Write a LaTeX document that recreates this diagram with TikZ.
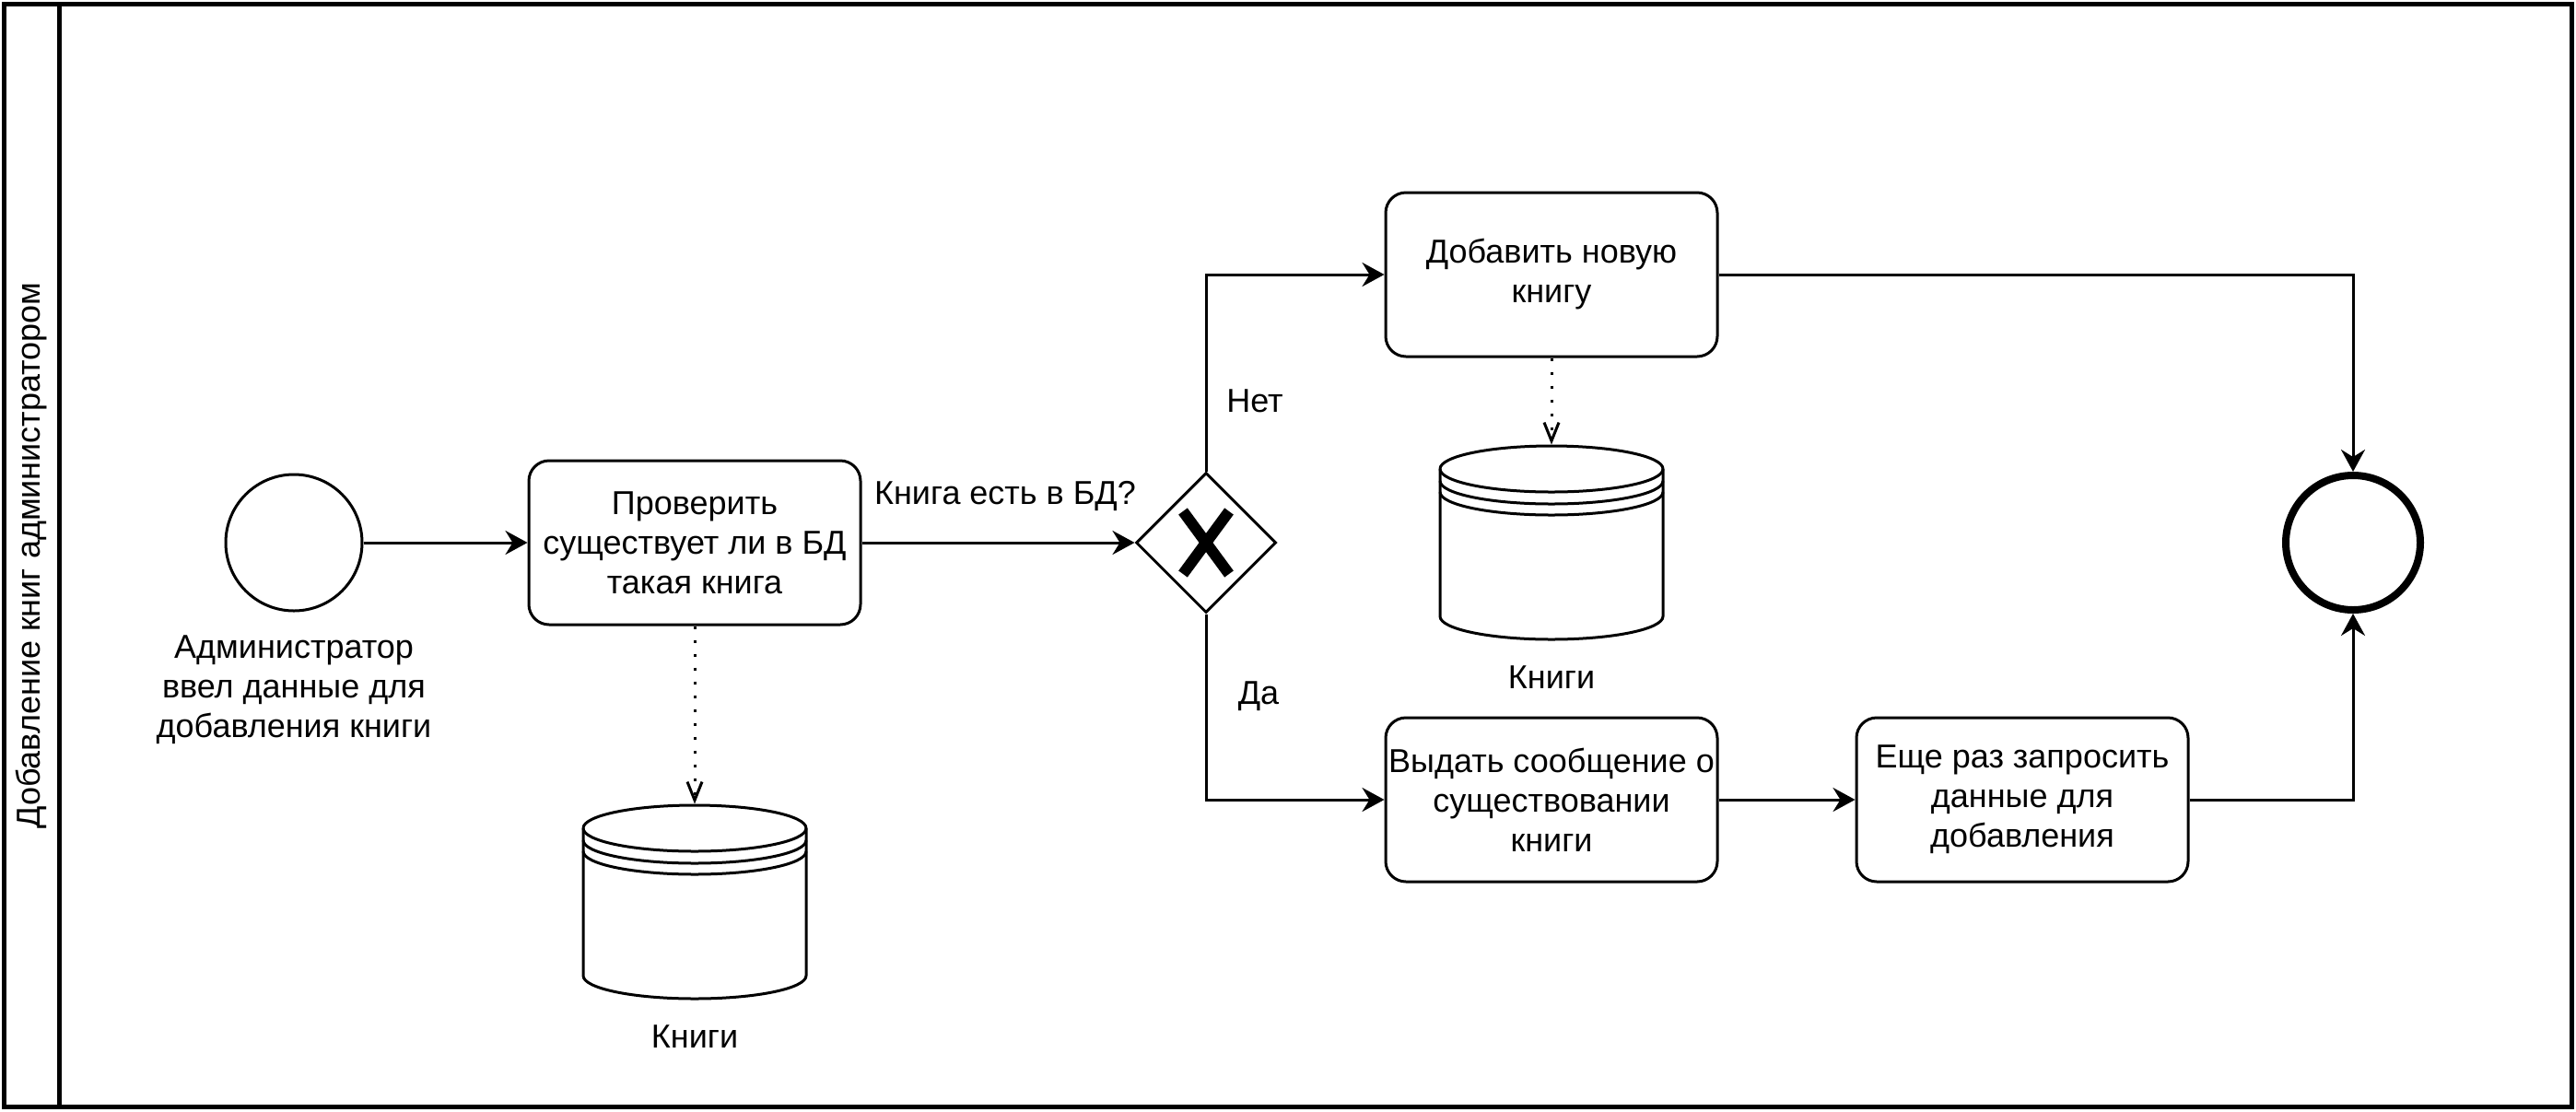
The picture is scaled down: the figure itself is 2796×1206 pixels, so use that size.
\documentclass[tikz,border=0pt]{standalone}
\usepackage{fontspec}
\setmainfont{Liberation Sans}
\usetikzlibrary{shapes.geometric,arrows.meta,positioning}

\newcommand{\knigistore}[3]{% #1 name, #2 centre x, #3 top y
  \node[dbbox] (#1) at (#2,#3+106) {};
  \draw[dbline] (#2-121,#3+26) -- (#2-121,#3+186)
    arc[start angle=180,end angle=360,x radius=60.5pt,y radius=12.5pt]
    -- (#2+121,#3+26)
    arc[start angle=0,end angle=180,x radius=60.5pt,y radius=12.5pt];
  \foreach \d in {0,13,25}
    \draw[dbline] (#2-121,#3+26+\d) arc[start angle=180,end angle=360,x radius=60.5pt,y radius=12.5pt];
}

\begin{document}
\begin{tikzpicture}[x=0.5pt,y=-0.5pt,font=\fontsize{18}{21.5}\selectfont,
  activity/.style={rectangle,draw,line width=1.5pt,rounded corners=11pt,minimum width=180pt,minimum height=89pt,inner sep=0pt,align=center},
  startev/.style={circle,draw,line width=1.5pt,minimum size=74pt,inner sep=0pt},
  endev/.style={circle,draw,line width=4pt,minimum size=73pt,inner sep=0pt},
  xgate/.style={diamond,draw,line width=1.5pt,minimum width=76pt,minimum height=76pt,inner sep=0pt,aspect=1},
  xmark/.style={line width=6pt,line cap=butt},
  dbbox/.style={rectangle,minimum width=121pt,minimum height=106pt,inner sep=0pt},
  dbline/.style={line width=1.5pt},
  poolline/.style={line width=2.5pt},
  flow/.style={line width=1.5pt,-{Stealth[length=12pt,width=13pt,inset=4pt]}},
  assoc/.style={line width=1.5pt,dash pattern=on 1.5pt off 6pt,-{Straight Barb[length=10pt,width=8pt]}}]
\useasboundingbox (0,0) rectangle (2796,1206);
\draw[poolline] (4.5,4.5) rectangle (2791.5,1201.5);
\draw[poolline] (64,4.5) -- (64,1201.5);
\node[rotate=90] (pooltitle) at (34,603) {Добавление книг администратором};

\node[startev] (start) at (319,589) {};
\node[align=center] (startlbl) at (319,749) {Администратор\\ввел данные для\\добавления книги};
\node[activity] (check) at (754,589) {Проверить\\существует ли в БД\\такая книга};
\node[xgate] (gw) at (1309,589) {};
\foreach \s in {1,-1}
  \draw[xmark] ([shift={(-25*\s,-34)}]gw.center) -- ([shift={(25*\s,34)}]gw.center);
\node[activity] (addbook) at (1684,298) {Добавить новую\\книгу};
\node[activity] (exists) at (1684,868) {Выдать сообщение о\\существовании\\книги};
\node[activity] (again) at (2195,868) {Еще раз запросить\\данные для\\добавления};
\node[endev] (finish) at (2554,589) {};

\knigistore{db1}{754}{873}
\node (db1lbl) at (754,1125) {Книги};
\knigistore{db2}{1684}{483}
\node (db2lbl) at (1684,735) {Книги};

\node (qlbl) at (1091,539) {Книга есть в БД?};
\node (nolbl) at (1362,435) {Нет};
\node (yeslbl) at (1366,756) {Да};

\draw[flow] (start) -- (check);
\draw[flow] (check) -- (gw);
\draw[flow] (gw.north) |- (addbook);
\draw[flow] (gw.south) |- (exists);
\draw[flow] (exists) -- (again);
\draw[flow] (addbook) -| (finish);
\draw[flow] (again) -| (finish);
\draw[assoc] (check) -- (db1);
\draw[assoc] (addbook) -- (db2);
\end{tikzpicture}
\end{document}
